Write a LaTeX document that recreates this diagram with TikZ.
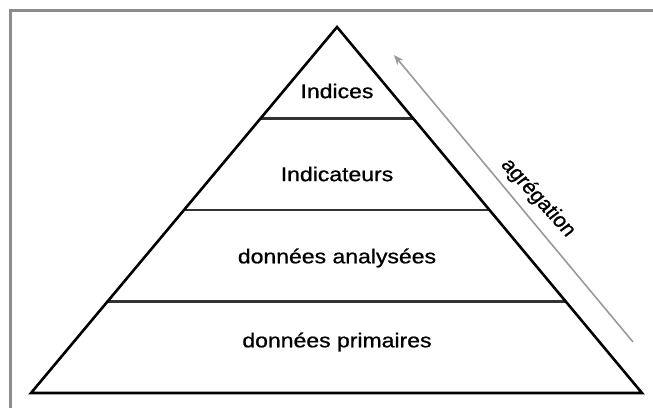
\documentclass[tikz,border=0pt]{standalone}
\usepackage{fontspec}
\setmainfont{Liberation Sans}[FakeBold=0.8]
\usetikzlibrary{calc,arrows.meta}
\begin{document}
\begin{tikzpicture}[x=1pt,y=-1pt,
  layertext/.style={font=\fontsize{20}{22}\selectfont, xscale=1.15, text=black},
  outline/.style={line width=2.6pt, black, line join=miter},
  divider/.style={line width=2.6pt, black!80},
  frameline/.style={line width=3pt, black!45},
  aggarrow/.style={line width=1.6pt, black!40, -{Stealth[length=10pt,width=8pt]}}]
\useasboundingbox (0,0) rectangle (653,408);
\fill[white] (0,0) rectangle (653,408);
% frame (only top and left visible)
\draw[frameline] (10,408) -- (10,10) -- (653,10);
% pyramid
\coordinate (apex) at (337,27);
\coordinate (bl) at (31,393);
\coordinate (br) at (642,393);
\coordinate (l1) at ($(apex)!0.25!(bl)$);
\coordinate (r1) at ($(apex)!0.25!(br)$);
\coordinate (l2) at ($(apex)!0.5!(bl)$);
\coordinate (r2) at ($(apex)!0.5!(br)$);
\coordinate (l3) at ($(apex)!0.75!(bl)$);
\coordinate (r3) at ($(apex)!0.75!(br)$);
\draw[divider] (l1) -- (r1);
\draw[divider] (l2) -- (r2);
\draw[divider] (l3) -- (r3);
\draw[outline] (apex) -- (bl) -- (br) -- cycle;
% texts
\node[layertext] (indices) at (337,91) {Indices};
\node[layertext] (indicateurs) at (337,174) {Indicateurs};
\node[layertext] (analysees) at (337,258) {données analysées};
\node[layertext] (primaires) at (337,342) {données primaires};
% aggregation arrow
\coordinate (astart) at (633,342);
\coordinate (aend) at (394,55);
\draw[aggarrow] (astart) -- (aend);
\node[font=\fontsize{20}{22}\selectfont, xscale=1.1, rotate=-50.2, text=black] (agg) at (538,198) {agrégation};
\end{tikzpicture}
\end{document}
